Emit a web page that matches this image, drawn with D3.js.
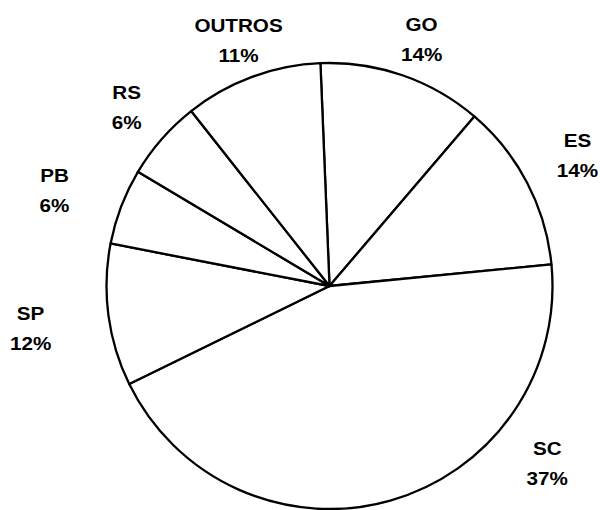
<!DOCTYPE html>
<html>
<head>
<meta charset="utf-8">
<script src="https://cdn.jsdelivr.net/npm/d3@7"></script>
<style>
  html, body { margin: 0; padding: 0; background: #fff; }
  svg { display: block; }
</style>
</head>
<body>
<svg id="chart" width="600" height="510"></svg>
<script>
// ---- data ----
const categories = ["GO", "ES", "SC", "SP", "PB", "RS", "OUTROS"];
// slice sizes as drawn in the picture (share of the circle, %)
const sliceShares = [11.9, 12.2, 44.3, 10.3, 5.5, 5.8, 10.0];
// percentages printed on the labels
const percentLabels = [14, 14, 37, 12, 6, 6, 11];

// ---- layout (not data) ----
const W = 600, H = 510;
const cx = 329.5, cy = 286, R = 223;
const startDeg = -2.33;
// label placement: [angle in degrees clockwise from top, distance from centre]
const labelPlacement = [[20.5, 263], [62.3, 280], [129.2, 281], [261.8, 302], [289.1, 291], [311.3, 270], [339.6, 261]];

const svg = d3.select("#chart");
const g = svg.append("g").attr("transform", `translate(${cx},${cy})`);

const rows = categories.map((c, i) => ({ cat: c, share: sliceShares[i], pct: percentLabels[i], place: labelPlacement[i] }));

const pie = d3.pie()
  .sort(null)
  .value(d => d.share)
  .startAngle(startDeg * Math.PI / 180)
  .endAngle(startDeg * Math.PI / 180 + 2 * Math.PI);

const arc = d3.arc().innerRadius(0).outerRadius(R);

g.selectAll("path.slice")
  .data(pie(rows))
  .join("path")
  .attr("class", "slice")
  .attr("d", arc)
  .attr("fill", "#fff")
  .attr("stroke", "#000")
  .attr("stroke-width", 2.3)
  .attr("stroke-linejoin", "round");

const labels = g.selectAll("g.lbl")
  .data(rows)
  .join("g")
  .attr("class", "lbl")
  .attr("transform", d => {
    const a = d.place[0] * Math.PI / 180, r = d.place[1];
    return `translate(${r * Math.sin(a)},${-r * Math.cos(a)})`;
  });

const textStyle = sel => sel
  .attr("text-anchor", "middle")
  .attr("font-family", "'Liberation Sans', Arial, Helvetica, sans-serif")
  .attr("font-weight", "bold")
  .attr("font-size", 17.5)
  .attr("fill", "#000");

labels.append("text")
  .call(textStyle)
  .attr("transform", "translate(0,-9) scale(1.18,1)")
  .text(d => d.cat);

labels.append("text")
  .call(textStyle)
  .attr("transform", "translate(0,21) scale(1.18,1)")
  .text(d => d.pct + "%");
</script>
</body>
</html>
